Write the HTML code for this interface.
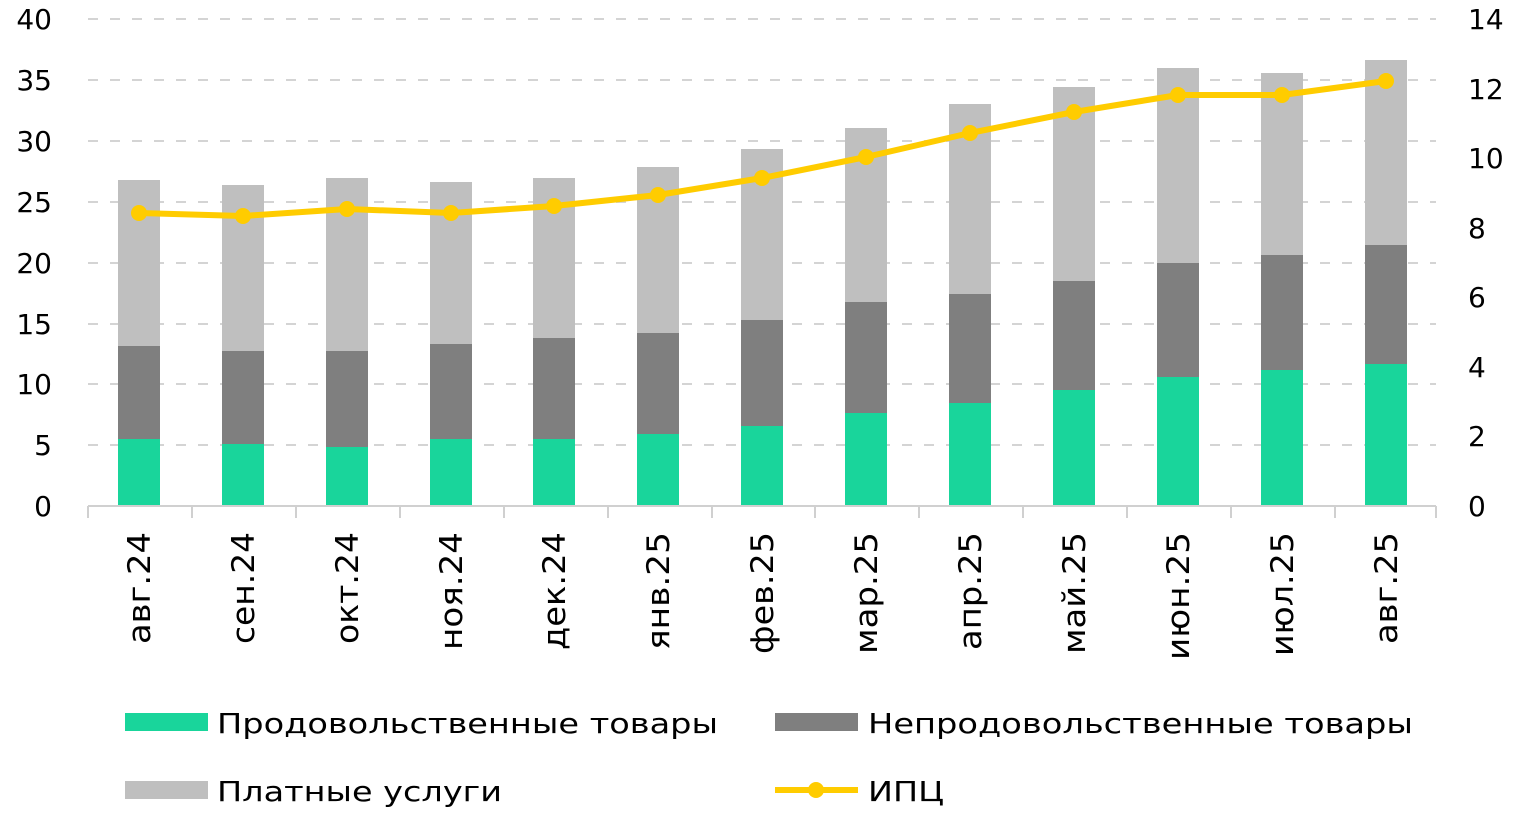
<!DOCTYPE html>
<html><head><meta charset="utf-8"><style>body{margin:0;background:#fff}svg{display:block}</style></head><body>
<svg width="1515" height="824" xmlns="http://www.w3.org/2000/svg" font-family="'DejaVu Sans','Liberation Sans',sans-serif" font-size="28" fill="#000">
<g stroke="#d4d4d4" stroke-width="2" stroke-dasharray="10,12">
<line x1="88" x2="1436" y1="19" y2="19"/><line x1="88" x2="1436" y1="80" y2="80"/><line x1="88" x2="1436" y1="141" y2="141"/><line x1="88" x2="1436" y1="202" y2="202"/><line x1="88" x2="1436" y1="263" y2="263"/><line x1="88" x2="1436" y1="324" y2="324"/><line x1="88" x2="1436" y1="384" y2="384"/><line x1="88" x2="1436" y1="445" y2="445"/>
</g>
<g text-anchor="end">
<text x="52" y="29">40</text><text x="52" y="90">35</text><text x="52" y="151">30</text><text x="52" y="212">25</text><text x="52" y="273">20</text><text x="52" y="334">15</text><text x="52" y="394">10</text><text x="52" y="455">5</text><text x="52" y="516">0</text>
</g>
<g text-anchor="start">
<text x="1468" y="29">14</text><text x="1468" y="99">12</text><text x="1468" y="168">10</text><text x="1468" y="238">8</text><text x="1468" y="307">6</text><text x="1468" y="377">4</text><text x="1468" y="446">2</text><text x="1468" y="516">0</text>
</g>
<g>
<rect x="118" y="180" width="42" height="166" fill="#bfbfbf"/><rect x="118" y="346" width="42" height="93" fill="#7f7f7f"/><rect x="118" y="439" width="42" height="67" fill="#19d59b"/>
<rect x="222" y="185" width="42" height="166" fill="#bfbfbf"/><rect x="222" y="351" width="42" height="93" fill="#7f7f7f"/><rect x="222" y="444" width="42" height="62" fill="#19d59b"/>
<rect x="326" y="178" width="42" height="173" fill="#bfbfbf"/><rect x="326" y="351" width="42" height="96" fill="#7f7f7f"/><rect x="326" y="447" width="42" height="59" fill="#19d59b"/>
<rect x="430" y="182" width="42" height="162" fill="#bfbfbf"/><rect x="430" y="344" width="42" height="95" fill="#7f7f7f"/><rect x="430" y="439" width="42" height="67" fill="#19d59b"/>
<rect x="533" y="178" width="42" height="160" fill="#bfbfbf"/><rect x="533" y="338" width="42" height="101" fill="#7f7f7f"/><rect x="533" y="439" width="42" height="67" fill="#19d59b"/>
<rect x="637" y="167" width="42" height="166" fill="#bfbfbf"/><rect x="637" y="333" width="42" height="101" fill="#7f7f7f"/><rect x="637" y="434" width="42" height="72" fill="#19d59b"/>
<rect x="741" y="149" width="42" height="171" fill="#bfbfbf"/><rect x="741" y="320" width="42" height="106" fill="#7f7f7f"/><rect x="741" y="426" width="42" height="80" fill="#19d59b"/>
<rect x="845" y="128" width="42" height="174" fill="#bfbfbf"/><rect x="845" y="302" width="42" height="111" fill="#7f7f7f"/><rect x="845" y="413" width="42" height="93" fill="#19d59b"/>
<rect x="949" y="104" width="42" height="190" fill="#bfbfbf"/><rect x="949" y="294" width="42" height="109" fill="#7f7f7f"/><rect x="949" y="403" width="42" height="103" fill="#19d59b"/>
<rect x="1053" y="87" width="42" height="194" fill="#bfbfbf"/><rect x="1053" y="281" width="42" height="109" fill="#7f7f7f"/><rect x="1053" y="390" width="42" height="116" fill="#19d59b"/>
<rect x="1157" y="68" width="42" height="195" fill="#bfbfbf"/><rect x="1157" y="263" width="42" height="114" fill="#7f7f7f"/><rect x="1157" y="377" width="42" height="129" fill="#19d59b"/>
<rect x="1261" y="73" width="42" height="182" fill="#bfbfbf"/><rect x="1261" y="255" width="42" height="115" fill="#7f7f7f"/><rect x="1261" y="370" width="42" height="136" fill="#19d59b"/>
<rect x="1365" y="60" width="42" height="185" fill="#bfbfbf"/><rect x="1365" y="245" width="42" height="119" fill="#7f7f7f"/><rect x="1365" y="364" width="42" height="142" fill="#19d59b"/>
</g>
<g stroke="#d0d0d0" stroke-width="2">
<line x1="88" x2="1436" y1="506" y2="506"/>
<line x1="88" x2="88" y1="506" y2="518"/><line x1="192" x2="192" y1="506" y2="518"/><line x1="296" x2="296" y1="506" y2="518"/><line x1="400" x2="400" y1="506" y2="518"/><line x1="504" x2="504" y1="506" y2="518"/><line x1="608" x2="608" y1="506" y2="518"/><line x1="712" x2="712" y1="506" y2="518"/><line x1="815" x2="815" y1="506" y2="518"/><line x1="919" x2="919" y1="506" y2="518"/><line x1="1023" x2="1023" y1="506" y2="518"/><line x1="1127" x2="1127" y1="506" y2="518"/><line x1="1231" x2="1231" y1="506" y2="518"/><line x1="1335" x2="1335" y1="506" y2="518"/><line x1="1436" x2="1436" y1="506" y2="518"/>
</g>
<polyline fill="none" stroke="#ffcc00" stroke-width="6" stroke-linejoin="round" points="139,213 243,216 347,209 451,213 554,206 658,195 762,178 866,157 970,133 1074,112 1178,95 1282,95 1386,81"/>
<g fill="#ffcc00">
<circle cx="139" cy="213" r="8"/><circle cx="243" cy="216" r="8"/><circle cx="347" cy="209" r="8"/><circle cx="451" cy="213" r="8"/><circle cx="554" cy="206" r="8"/><circle cx="658" cy="195" r="8"/><circle cx="762" cy="178" r="8"/><circle cx="866" cy="157" r="8"/><circle cx="970" cy="133" r="8"/><circle cx="1074" cy="112" r="8"/><circle cx="1178" cy="95" r="8"/><circle cx="1282" cy="95" r="8"/><circle cx="1386" cy="81" r="8"/>
</g>
<g text-anchor="end" font-size="31">
<text transform="translate(150,532) rotate(-90)" textLength="112" lengthAdjust="spacingAndGlyphs">авг.24</text>
<text transform="translate(254,532) rotate(-90)" textLength="112" lengthAdjust="spacingAndGlyphs">сен.24</text>
<text transform="translate(358,532) rotate(-90)" textLength="112" lengthAdjust="spacingAndGlyphs">окт.24</text>
<text transform="translate(462,532) rotate(-90)" textLength="118" lengthAdjust="spacingAndGlyphs">ноя.24</text>
<text transform="translate(565,532) rotate(-90)" textLength="118" lengthAdjust="spacingAndGlyphs">дек.24</text>
<text transform="translate(669,532) rotate(-90)" textLength="118" lengthAdjust="spacingAndGlyphs">янв.25</text>
<text transform="translate(773,532) rotate(-90)" textLength="122" lengthAdjust="spacingAndGlyphs">фев.25</text>
<text transform="translate(877,532) rotate(-90)" textLength="122" lengthAdjust="spacingAndGlyphs">мар.25</text>
<text transform="translate(981,532) rotate(-90)" textLength="118" lengthAdjust="spacingAndGlyphs">апр.25</text>
<text transform="translate(1085,532) rotate(-90)" textLength="122" lengthAdjust="spacingAndGlyphs">май.25</text>
<text transform="translate(1189,532) rotate(-90)" textLength="128" lengthAdjust="spacingAndGlyphs">июн.25</text>
<text transform="translate(1293,532) rotate(-90)" textLength="124" lengthAdjust="spacingAndGlyphs">июл.25</text>
<text transform="translate(1397,532) rotate(-90)" textLength="112" lengthAdjust="spacingAndGlyphs">авг.25</text>
</g>
<rect x="125" y="713" width="83" height="18" fill="#19d59b"/>
<text x="217" y="733" textLength="501" lengthAdjust="spacingAndGlyphs">Продовольственные товары</text>
<rect x="775" y="713" width="83" height="18" fill="#7f7f7f"/>
<text x="868" y="733" textLength="545" lengthAdjust="spacingAndGlyphs">Непродовольственные товары</text>
<rect x="125" y="781" width="83" height="18" fill="#bfbfbf"/>
<text x="217" y="801" textLength="285" lengthAdjust="spacingAndGlyphs">Платные услуги</text>
<line x1="775" x2="858" y1="790" y2="790" stroke="#ffcc00" stroke-width="6"/>
<circle cx="816" cy="790" r="8" fill="#ffcc00"/>
<text x="868" y="801" textLength="76" lengthAdjust="spacingAndGlyphs">ИПЦ</text>
</svg>
</body></html>
